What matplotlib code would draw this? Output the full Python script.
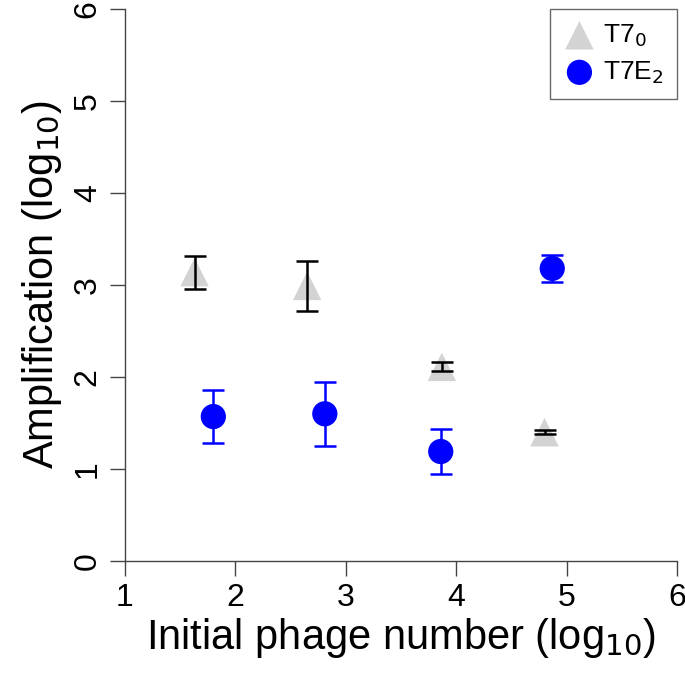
import matplotlib
matplotlib.use("Agg")
import matplotlib.pyplot as plt

plt.rcParams["font.family"] = ["Liberation Sans", "DejaVu Sans"]

# T7_0 (grey triangles)
T70_X = [1.63, 2.65, 3.87, 4.80]
T70_Y = [3.14, 2.99, 2.11, 1.40]
T70_ERR = [0.18, 0.275, 0.05, 0.02]

# T7E_2 (blue circles)
T7E_X = [1.80, 2.81, 3.86, 4.87]
T7E_Y = [1.57, 1.60, 1.19, 3.18]
T7E_ERR = [0.285, 0.345, 0.24, 0.15]

XTICKS = [1, 2, 3, 4, 5, 6]
YTICKS = [0, 1, 2, 3, 4, 5, 6]

fig = plt.figure(figsize=(6.85, 6.75), dpi=100)
ax = fig.add_axes([125 / 685, 1 - 561 / 675, 552 / 685, 552 / 675])

ax.scatter(T70_X, T70_Y, marker="^", s=420, color="#d3d3d3", edgecolors="none",
           zorder=2, label="T7$_0$")
ax.errorbar(T70_X, T70_Y, yerr=T70_ERR, fmt="none", ecolor="black", elinewidth=1.8,
            capsize=8, capthick=1.8, zorder=3)

ax.scatter(T7E_X, T7E_Y, marker="o", s=330, color="#0000ff", edgecolors="none",
           zorder=2, label="T7E$_2$")
ax.errorbar(T7E_X, T7E_Y, yerr=T7E_ERR, fmt="none", ecolor="#0000ff", elinewidth=1.8,
            capsize=8, capthick=1.8, zorder=3)

ax.set_xlim(1, 6)
ax.set_ylim(0, 6)
ax.set_xticks(XTICKS)
ax.set_yticks(YTICKS)
ax.set_xticklabels([str(t) for t in XTICKS], fontsize=23)
ax.set_yticklabels([str(t) for t in YTICKS], fontsize=23, rotation=90, va="center")
ax.tick_params(direction="out", length=11, width=1, pad=5, color="#444444")
for s in ("top", "right"):
    ax.spines[s].set_visible(False)
for s in ("left", "bottom"):
    ax.spines[s].set_color("#444444")
    ax.spines[s].set_linewidth(1)
ax.spines["left"].set_bounds(0, 6)
ax.spines["bottom"].set_bounds(1, 6)

ax.set_xlabel("Initial phage number (log$_{10}$)", fontsize=30, labelpad=2)
ax.set_ylabel("Amplification (log$_{10}$)", fontsize=30, labelpad=6)

leg = ax.legend(loc="upper right", fontsize=19, frameon=True, fancybox=False,
                borderaxespad=0.0, handletextpad=0.3, borderpad=0.5,
                markerscale=1.0, labelspacing=0.4, handlelength=1.2)
leg.get_frame().set_edgecolor("#444444")
leg.get_frame().set_linewidth(1)

fig.savefig("out.png", dpi=100)
